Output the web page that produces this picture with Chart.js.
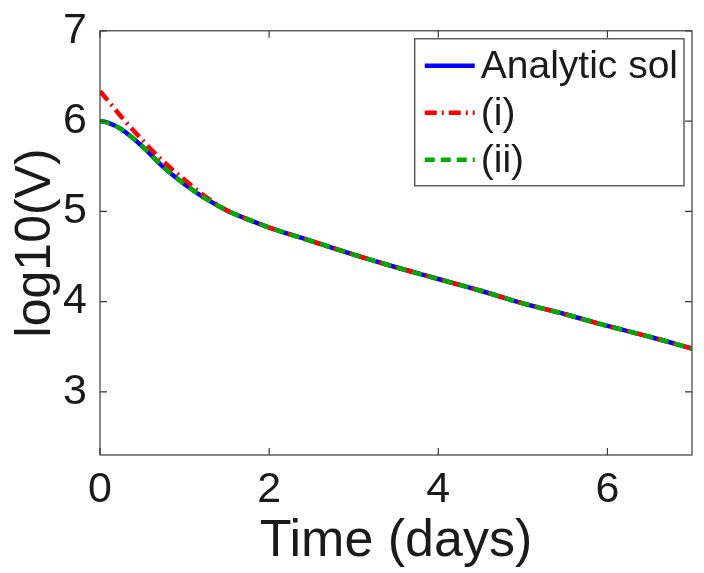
<!DOCTYPE html>
<html>
<head>
<meta charset="utf-8">
<script src="https://cdn.jsdelivr.net/npm/chart.js@4.4.1/dist/chart.umd.min.js"></script>
<style>
  html, body { margin: 0; padding: 0; background: #fff; }
  #wrap { width: 704px; height: 573px; }
</style>
</head>
<body>
<div id="wrap"><canvas id="chart" width="704" height="573"></canvas></div>
<script>
// Data
const timeDays    = [0, 0.1, 0.25, 0.5, 0.75, 1.0, 1.25, 1.5, 1.75, 2.0, 2.5, 3.0, 3.5, 4.0, 4.5, 5.0, 5.5, 6.0, 6.5, 7.0];
const analyticSol = [6.00, 5.98, 5.91, 5.72, 5.49, 5.30, 5.14, 5.01, 4.91, 4.82, 4.67, 4.52, 4.38, 4.25, 4.12, 3.98, 3.86, 3.73, 3.61, 3.48];
const solI        = [6.33, 6.22, 6.05, 5.79, 5.55, 5.35, 5.16, 5.01, 4.91, 4.82, 4.67, 4.52, 4.38, 4.25, 4.12, 3.98, 3.86, 3.73, 3.61, 3.48];
const solII       = [6.00, 5.98, 5.91, 5.72, 5.49, 5.30, 5.14, 5.01, 4.91, 4.82, 4.67, 4.52, 4.38, 4.25, 4.12, 3.98, 3.86, 3.73, 3.61, 3.48];

const xTicks = [0, 2, 4, 6];
const yTicks = [3, 4, 5, 6, 7];

const FONT = '"Liberation Sans", Arial, Helvetica, sans-serif';
const AXIS_COLOR = '#3a3a3a';

const toPoints = (ys) => ys.map((y, i) => ({ x: timeDays[i], y }));

// MATLAB-like box with inward ticks, plus legend in the top-right corner
const matlabBox = {
  id: 'matlabBox',
  afterDatasetsDraw(chart) {
    const { ctx, chartArea: a, scales } = chart;
    const tl = 7;
    ctx.save();
    ctx.strokeStyle = AXIS_COLOR;
    ctx.lineWidth = 1.2;
    ctx.strokeRect(a.left, a.top, a.right - a.left, a.bottom - a.top);
    ctx.beginPath();
    xTicks.forEach(v => {
      const px = scales.x.getPixelForValue(v);
      ctx.moveTo(px, a.bottom); ctx.lineTo(px, a.bottom - tl);
      ctx.moveTo(px, a.top); ctx.lineTo(px, a.top + tl);
    });
    yTicks.forEach(v => {
      const py = scales.y.getPixelForValue(v);
      ctx.moveTo(a.left, py); ctx.lineTo(a.left + tl, py);
      ctx.moveTo(a.right, py); ctx.lineTo(a.right - tl, py);
    });
    ctx.stroke();

    // legend
    const sets = chart.data.datasets;
    ctx.font = '39px ' + FONT;
    const textW = Math.max(...sets.map(d => ctx.measureText(d.label).width));
    const rowH = 47;
    const sample = 50;
    const boxW = 10 + sample + 6 + textW + 6;
    const boxH = rowH * sets.length + 6;
    const bx = a.right - 8 - boxW;
    const by = a.top + 8;
    ctx.fillStyle = '#fff';
    ctx.fillRect(bx, by, boxW, boxH);
    ctx.strokeStyle = AXIS_COLOR;
    ctx.lineWidth = 1.2;
    ctx.strokeRect(bx, by, boxW, boxH);
    sets.forEach((d, i) => {
      const cy = by + 27 + i * rowH;
      ctx.save();
      ctx.strokeStyle = d.borderColor;
      ctx.lineWidth = d.borderWidth;
      ctx.setLineDash(d.borderDash || []);
      ctx.beginPath();
      ctx.moveTo(bx + 10, cy);
      ctx.lineTo(bx + 10 + sample, cy);
      ctx.stroke();
      ctx.restore();
      ctx.fillStyle = '#1a1a1a';
      ctx.textBaseline = 'middle';
      ctx.textAlign = 'left';
      ctx.fillText(d.label, bx + 10 + sample + 6, cy + 1);
    });
    ctx.restore();
  }
};

new Chart(document.getElementById('chart'), {
  type: 'line',
  data: {
    datasets: [
      {
        label: 'Analytic sol',
        data: toPoints(analyticSol),
        borderColor: '#0000ff',
        borderWidth: 4.5,
        pointRadius: 0,
        cubicInterpolationMode: 'monotone',
        order: 2
      },
      {
        label: '(i)',
        data: toPoints(solI),
        borderColor: '#ff0000',
        borderWidth: 4.5,
        borderDash: [12, 5, 2, 5],
        pointRadius: 0,
        cubicInterpolationMode: 'monotone',
        order: 1
      },
      {
        label: '(ii)',
        data: toPoints(solII),
        borderColor: '#00aa00',
        borderWidth: 4.5,
        borderDash: [10, 6],
        pointRadius: 0,
        cubicInterpolationMode: 'monotone',
        order: 0
      }
    ]
  },
  options: {
    responsive: false,
    animation: false,
    layout: { padding: { top: 26, right: 12, left: 0, bottom: 0 } },
    plugins: {
      legend: { display: false },
      tooltip: { enabled: false }
    },
    scales: {
      x: {
        type: 'linear',
        min: 0,
        max: 7,
        afterBuildTicks: (s) => { s.ticks = xTicks.map(v => ({ value: v })); },
        afterFit: (s) => { s.height = 118; },
        grid: { display: false },
        border: { display: false },
        ticks: { color: '#1a1a1a', font: { family: FONT, size: 43 }, padding: 1, maxRotation: 0 },
        title: {
          display: true,
          text: 'Time (days)',
          color: '#1a1a1a',
          font: { family: FONT, size: 52 },
          padding: { top: 0, bottom: 0 }
        }
      },
      y: {
        type: 'linear',
        min: 2.3,
        max: 7,
        afterBuildTicks: (s) => { s.ticks = yTicks.map(v => ({ value: v })); },
        afterFit: (s) => { s.width = 100; },
        grid: { display: false },
        border: { display: false },
        ticks: { color: '#1a1a1a', font: { family: FONT, size: 43 }, padding: 5 },
        title: {
          display: true,
          text: 'log10(V)',
          color: '#1a1a1a',
          font: { family: FONT, size: 50 },
          padding: { top: 6, bottom: 0 }
        }
      }
    }
  },
  plugins: [matlabBox]
});
</script>
</body>
</html>
